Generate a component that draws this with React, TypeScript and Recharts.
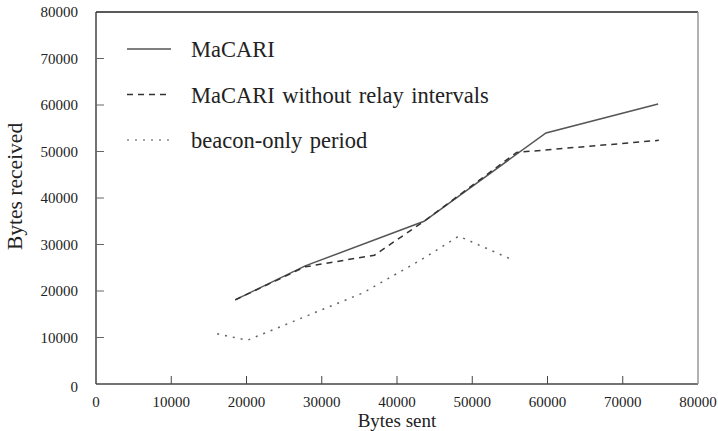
import React from "react";
import { Legend, Line, LineChart, XAxis, YAxis } from "recharts";

// Bytes sent (x) vs bytes received (y) for each configuration
const macariSent = [18500, 27800, 43600, 59800, 74700];
const macariRecv = [18100, 25400, 35000, 54000, 60200];

const noRelaySent = [18500, 27800, 37000, 43600, 55900, 74800];
const noRelayRecv = [18100, 25200, 27700, 35000, 49800, 52400];

const beaconSent = [16100, 20100, 27800, 35500, 43500, 48200, 55500];
const beaconRecv = [10800, 9400, 14500, 19600, 27000, 31800, 26600];

const axisTicks = [0, 10000, 20000, 30000, 40000, 50000, 60000, 70000, 80000];

const legendItems = [
  { label: "MaCARI", dash: undefined, color: "#555" },
  { label: "MaCARI without relay intervals", dash: "6 5", color: "#333" },
  { label: "beacon-only period", dash: "2 6", color: "#888" },
];

const toPoints = (xs: number[], ys: number[]) =>
  xs.map((x, i) => ({ sent: x, recv: ys[i] }));

const macari = toPoints(macariSent, macariRecv);
const noRelay = toPoints(noRelaySent, noRelayRecv);
const beacon = toPoints(beaconSent, beaconRecv);

const FONT = "'Liberation Serif', 'DejaVu Serif', serif";
const TICK = 8;

function BottomTick(props: any) {
  const { x, y, payload } = props;
  const edge = payload.value === 0 || payload.value === 80000;
  return (
    <g>
      {!edge && <line x1={x} y1={y} x2={x} y2={y - TICK} stroke="#444" />}
      <text x={x} y={y + 23} textAnchor="middle" fontFamily={FONT} fontSize={15} fill="#222">
        {payload.value}
      </text>
    </g>
  );
}

function LeftTick(props: any) {
  const { x, y, payload } = props;
  const edge = payload.value === 0 || payload.value === 80000;
  return (
    <g>
      {!edge && <line x1={x} y1={y} x2={x + TICK} y2={y} stroke="#666" />}
      <text
        x={x - 18}
        y={payload.value === 0 ? y + 8 : y + 5}
        textAnchor="end"
        fontFamily={FONT}
        fontSize={15}
        fill="#222"
      >
        {payload.value}
      </text>
    </g>
  );
}

function TopTick(props: any) {
  const { x, y, payload } = props;
  if (payload.value === 0 || payload.value === 80000) return <g />;
  return <line x1={x} y1={y} x2={x} y2={y + TICK} stroke="#333" />;
}

function RightTick(props: any) {
  const { x, y, payload } = props;
  if (payload.value === 0 || payload.value === 80000) return <g />;
  return <line x1={x} y1={y} x2={x - TICK} y2={y} stroke="#888" />;
}

function LegendBox() {
  return (
    <svg width={420} height={130}>
      {legendItems.map((item, i) => {
        const cy = 12 + i * 45.5;
        return (
          <g key={item.label}>
            <line
              x1={0}
              x2={44}
              y1={cy}
              y2={cy}
              stroke={item.color}
              strokeWidth={1.5}
              strokeDasharray={item.dash}
            />
            <text x={64} y={cy + 8} fontFamily={FONT} fontSize={22.5} fill="#222" wordSpacing={2}>
              {item.label}
            </text>
          </g>
        );
      })}
    </svg>
  );
}

export default function App() {
  return (
    <div style={{ position: "absolute", left: 0, top: 0, background: "#fff" }}>
      <LineChart width={718} height={431} margin={{ top: 11, right: 19, left: 0, bottom: 0 }}>
        <XAxis
          xAxisId="main"
          dataKey="sent"
          type="number"
          domain={[0, 80000]}
          ticks={axisTicks}
          height={47}
          stroke="#444"
          strokeWidth={1.5}
          tickSize={0}
          tickMargin={0}
          tickLine={false}
          tick={<BottomTick />}
          interval={0}
          label={{ value: "Bytes sent", position: "insideBottom", offset: 4, fontFamily: FONT, fontSize: 19, fill: "#222" }}
        />
        <XAxis
          xAxisId="top"
          orientation="top"
          dataKey="sent"
          type="number"
          domain={[0, 80000]}
          ticks={axisTicks}
          height={1}
          stroke="#222"
          strokeWidth={1.5}
          tickSize={0}
          tickMargin={0}
          tickLine={false}
          tick={<TopTick />}
          interval={0}
        />
        <YAxis
          yAxisId="main"
          type="number"
          domain={[0, 80000]}
          ticks={axisTicks}
          width={96}
          stroke="#444"
          strokeWidth={1.5}
          tickSize={0}
          tickMargin={0}
          tickLine={false}
          tick={<LeftTick />}
          interval={0}
          label={{
            value: "Bytes received",
            angle: -90,
            position: "insideLeft",
            offset: 14,
            dy: 52,
            fontFamily: FONT,
            fontSize: 21.5,
            fill: "#222",
          }}
        />
        <YAxis
          yAxisId="right"
          orientation="right"
          type="number"
          domain={[0, 80000]}
          ticks={axisTicks}
          width={1}
          stroke="#999"
          strokeWidth={1.5}
          tickSize={0}
          tickMargin={0}
          tickLine={false}
          tick={<RightTick />}
          interval={0}
        />
        <Legend
          layout="horizontal"
          verticalAlign="middle"
          align="center"
          wrapperStyle={{ left: 127, top: 37, width: 420 }}
          content={() => <LegendBox />}
        />
        <Line
          xAxisId="main"
          yAxisId="main"
          data={macari}
          dataKey="recv"
          stroke="#555"
          strokeWidth={1.5}
          dot={false}
          isAnimationActive={false}
        />
        <Line
          xAxisId="main"
          yAxisId="main"
          data={noRelay}
          dataKey="recv"
          stroke="#333"
          strokeWidth={1.5}
          strokeDasharray="6 5"
          dot={false}
          isAnimationActive={false}
        />
        <Line
          xAxisId="main"
          yAxisId="main"
          data={beacon}
          dataKey="recv"
          stroke="#666"
          strokeWidth={1.5}
          strokeDasharray="2 6"
          dot={false}
          isAnimationActive={false}
        />
      </LineChart>
    </div>
  );
}
